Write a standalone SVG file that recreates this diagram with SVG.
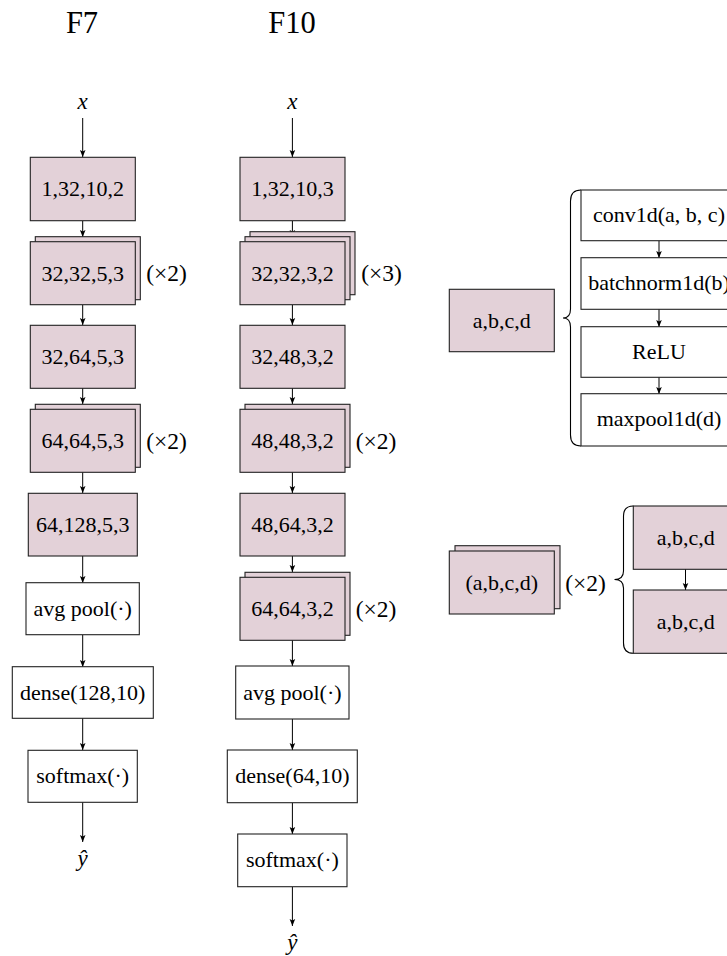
<svg xmlns="http://www.w3.org/2000/svg" width="727" height="956" viewBox="0 0 727 956">
<style>
.p{fill:#e3d1d8;stroke:#222;stroke-width:1.1}
.w{fill:#fff;stroke:#222;stroke-width:1.1}
.t{font-family:"Liberation Serif","Times New Roman",serif;font-size:22px;fill:#000;text-anchor:middle}
.r{font-family:"Liberation Serif","Times New Roman",serif;font-size:23.5px;fill:#000;text-anchor:middle}
.ti{font-family:"Liberation Serif","Times New Roman",serif;font-size:30.5px;fill:#000;text-anchor:middle}
.m{font-family:"Liberation Serif","Times New Roman",serif;font-size:23px;font-style:italic;fill:#000;text-anchor:middle}
.c{stroke:#000;stroke-width:1;fill:none}
.b{stroke:#000;stroke-width:1.1;fill:none}
</style>
<defs>
<marker id="ah" markerUnits="userSpaceOnUse" markerWidth="8" markerHeight="8" viewBox="0 0 8 8" refX="7" refY="4" orient="auto">
<path d="M0,1.2 L7,4 L0,6.8 L1.5,4 Z" fill="#000"/>
</marker>
</defs>
<rect width="727" height="956" fill="#fff"/>

<text class="ti" x="82" y="32.5">F7</text>
<text class="ti" x="292" y="32.5">F10</text>

<g id="connectors">
<line class="c" x1="82.7" y1="118" x2="82.7" y2="157" marker-end="url(#ah)"/>
<line class="c" x1="82.7" y1="221" x2="82.7" y2="237" marker-end="url(#ah)"/>
<line class="c" x1="82.7" y1="305" x2="82.7" y2="325" marker-end="url(#ah)"/>
<line class="c" x1="82.7" y1="388" x2="82.7" y2="404" marker-end="url(#ah)"/>
<line class="c" x1="82.7" y1="472" x2="82.7" y2="493" marker-end="url(#ah)"/>
<line class="c" x1="82.7" y1="556" x2="82.7" y2="583" marker-end="url(#ah)"/>
<line class="c" x1="82.7" y1="635" x2="82.7" y2="667" marker-end="url(#ah)"/>
<line class="c" x1="82.7" y1="718" x2="82.7" y2="750" marker-end="url(#ah)"/>
<line class="c" x1="82.7" y1="802" x2="82.7" y2="842" marker-end="url(#ah)"/>

<line class="c" x1="292.4" y1="118" x2="292.4" y2="157" marker-end="url(#ah)"/>
<line class="c" x1="292.4" y1="221" x2="292.4" y2="237" marker-end="url(#ah)"/>
<line class="c" x1="292.4" y1="305" x2="292.4" y2="325" marker-end="url(#ah)"/>
<line class="c" x1="292.4" y1="388" x2="292.4" y2="404" marker-end="url(#ah)"/>
<line class="c" x1="292.4" y1="472" x2="292.4" y2="493" marker-end="url(#ah)"/>
<line class="c" x1="292.4" y1="556" x2="292.4" y2="572" marker-end="url(#ah)"/>
<line class="c" x1="292.4" y1="640" x2="292.4" y2="666" marker-end="url(#ah)"/>
<line class="c" x1="292.4" y1="719" x2="292.4" y2="750" marker-end="url(#ah)"/>
<line class="c" x1="292.4" y1="803" x2="292.4" y2="834" marker-end="url(#ah)"/>
<line class="c" x1="292.4" y1="887" x2="292.4" y2="926" marker-end="url(#ah)"/>

<line class="c" x1="659" y1="241" x2="659" y2="258" marker-end="url(#ah)"/>
<line class="c" x1="659" y1="309" x2="659" y2="327" marker-end="url(#ah)"/>
<line class="c" x1="659" y1="377" x2="659" y2="394" marker-end="url(#ah)"/>
<line class="c" x1="685.5" y1="569" x2="685.5" y2="590" marker-end="url(#ah)"/>
</g>

<text class="m" x="82.7" y="109">x</text>
<text class="m" x="292.4" y="109">x</text>
<text class="m" x="82.7" y="866">ŷ</text>
<text class="m" x="292.4" y="950">ŷ</text>

<!-- F7 column -->
<g id="f7_1"><rect class="p" x="30.3" y="157.3" width="105" height="63.4"/><text class="t" x="82.8" y="196">1,32,10,2</text></g>
<g id="f7_2"><rect class="p" x="35.3" y="236.7" width="105" height="63"/><rect class="p" x="30.3" y="241.7" width="105" height="63"/><text class="t" x="82.8" y="280.5">32,32,5,3</text><text class="r" x="166.5" y="281">(×2)</text></g>
<g id="f7_3"><rect class="p" x="30.3" y="325.3" width="105" height="63"/><text class="t" x="82.8" y="364">32,64,5,3</text></g>
<g id="f7_4"><rect class="p" x="35.3" y="404.3" width="105" height="63"/><rect class="p" x="30.3" y="409.3" width="105" height="63"/><text class="t" x="82.8" y="448">64,64,5,3</text><text class="r" x="166.5" y="448.5">(×2)</text></g>
<g id="f7_5"><rect class="p" x="28.3" y="493.3" width="109" height="62.7"/><text class="t" x="82.8" y="532">64,128,5,3</text></g>
<g id="f7_6"><rect class="w" x="26" y="582.7" width="113.3" height="52"/><text class="t" x="82.7" y="615.5">avg pool(·)</text></g>
<g id="f7_7"><rect class="w" x="12.3" y="666.7" width="141" height="51.6"/><text class="t" x="82.7" y="699.5">dense(128,10)</text></g>
<g id="f7_8"><rect class="w" x="28" y="750.3" width="109.3" height="52"/><text class="t" x="82.7" y="783">softmax(·)</text></g>

<!-- F10 column -->
<g id="f10_1"><rect class="p" x="240" y="157.3" width="105" height="63.4"/><text class="t" x="292.5" y="196">1,32,10,3</text></g>
<g id="f10_2"><rect class="p" x="250" y="231.7" width="105" height="63"/><rect class="p" x="245" y="236.7" width="105" height="63"/><rect class="p" x="240" y="241.7" width="105" height="63"/><text class="t" x="292.5" y="280.5">32,32,3,2</text><text class="r" x="381.5" y="281">(×3)</text></g>
<g id="f10_3"><rect class="p" x="240" y="325.3" width="105" height="63"/><text class="t" x="292.5" y="364">32,48,3,2</text></g>
<g id="f10_4"><rect class="p" x="245" y="404.3" width="105" height="63"/><rect class="p" x="240" y="409.3" width="105" height="63"/><text class="t" x="292.5" y="448">48,48,3,2</text><text class="r" x="376" y="448.5">(×2)</text></g>
<g id="f10_5"><rect class="p" x="240" y="493.3" width="105" height="62.7"/><text class="t" x="292.5" y="532">48,64,3,2</text></g>
<g id="f10_6"><rect class="p" x="245" y="572.3" width="105" height="63"/><rect class="p" x="240" y="577.3" width="105" height="63"/><text class="t" x="292.5" y="616">64,64,3,2</text><text class="r" x="376" y="616.5">(×2)</text></g>
<g id="f10_7"><rect class="w" x="235.7" y="666" width="113.3" height="53"/><text class="t" x="292.4" y="699.5">avg pool(·)</text></g>
<g id="f10_8"><rect class="w" x="227.3" y="750" width="130" height="52.7"/><text class="t" x="292.4" y="783">dense(64,10)</text></g>
<g id="f10_9"><rect class="w" x="237.7" y="834" width="109.3" height="52.7"/><text class="t" x="292.4" y="867">softmax(·)</text></g>

<!-- Legend: block -->
<g id="block"><rect class="p" x="449.3" y="289.3" width="105" height="62.4"/><text class="t" x="501.8" y="328">a,b,c,d</text></g>
<path class="b" d="M581,190 Q570.5,190 570.5,201 L570.5,309 Q570.5,318 563,318 Q570.5,318 570.5,327 L570.5,435 Q570.5,446 581,446"/>
<g id="conv"><rect class="w" x="581" y="190" width="156" height="50.7"/><text class="t" x="659" y="222">conv1d(a, b, c)</text></g>
<g id="bn"><rect class="w" x="581" y="257.7" width="156" height="51.6"/><text class="t" x="659" y="290">batchnorm1d(b)</text></g>
<g id="relu"><rect class="w" x="581" y="326.7" width="156" height="50.6"/><text class="t" x="659" y="359">ReLU</text></g>
<g id="maxpool"><rect class="w" x="581" y="393.7" width="156" height="52.3"/><text class="t" x="659" y="426">maxpool1d(d)</text></g>

<!-- Legend: repeated block -->
<g id="rep"><rect class="p" x="455" y="545.7" width="105" height="63"/><rect class="p" x="449.3" y="551" width="105" height="63"/><text class="t" x="501.8" y="590">(a,b,c,d)</text><text class="r" x="585.5" y="590.5">(×2)</text></g>
<path class="b" d="M633.5,506 Q623.5,506 623.5,516 L623.5,571 Q623.5,579.5 614.5,579.5 Q623.5,579.5 623.5,588 L623.5,643 Q623.5,653.3 633.5,653.3"/>
<g id="rep_a"><rect class="p" x="633.3" y="506" width="105" height="63.3"/><text class="t" x="685.8" y="545">a,b,c,d</text></g>
<g id="rep_b"><rect class="p" x="633.3" y="590" width="105" height="63.3"/><text class="t" x="685.8" y="629">a,b,c,d</text></g>
</svg>
